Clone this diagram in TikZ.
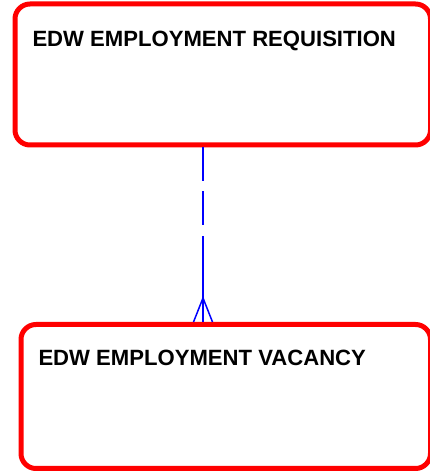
\documentclass[tikz,border=0pt]{standalone}
\usepackage{fontspec}
\setmainfont{Liberation Sans}
\begin{document}
\begin{tikzpicture}[x=1pt,y=1pt,
  entity/.style={draw=red,line width=5pt,rounded corners=15pt,fill=none,inner sep=0pt},
  title/.style={anchor=base west,inner sep=0pt,font=\fontsize{22.1}{26}\selectfont\bfseries},
  rel/.style={draw=blue,line width=1.5pt}]
\useasboundingbox (0,0) rectangle (430,474);
\node[entity,minimum width=415.5pt,minimum height=141pt,anchor=south west] (req) at (12.5,326.5) {};
\node[entity,minimum width=409.5pt,minimum height=144pt,anchor=south west] (vac) at (18.5,3) {};
\node[title] (reqt) at (32.3,427.3) {EDW EMPLOYMENT REQUISITION};
\node[title] (vact) at (38.3,108.3) {EDW EMPLOYMENT VACANCY};
\coordinate (cx) at (203,0);
\coordinate (apex) at (203,176);
\draw[rel,dash pattern=on 34pt off 10pt on 34pt off 11pt on 300pt] (req.south -| cx) -- (vac.north -| cx);
\draw[rel] (apex) -- ([xshift=-9.5pt]vac.north -| cx);
\draw[rel] (apex) -- ([xshift=9.5pt]vac.north -| cx);
\end{tikzpicture}
\end{document}
